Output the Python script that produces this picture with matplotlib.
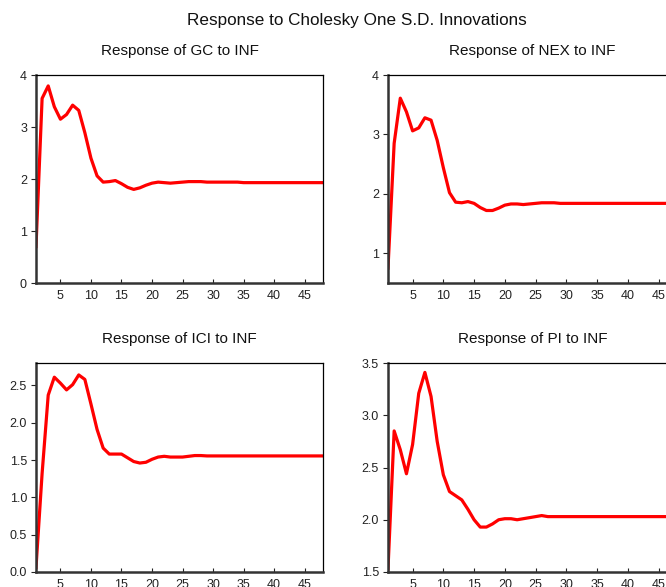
import numpy as np
import matplotlib
matplotlib.use("Agg")
import matplotlib.pyplot as plt

plt.rcParams["font.family"] = ["Liberation Sans", "DejaVu Sans"]

# --- Impulse responses to an INF shock (periods 1..48) ---
periods = np.arange(1, 49)

resp_gc = [0.70, 3.55, 3.79, 3.39, 3.15, 3.24, 3.42, 3.32, 2.89, 2.40,
           2.06, 1.94, 1.95, 1.97, 1.91, 1.84, 1.80, 1.83, 1.88, 1.92,
           1.94, 1.93, 1.92, 1.93, 1.94, 1.95, 1.95, 1.95, 1.94, 1.94,
           1.94, 1.94, 1.94, 1.94, 1.93, 1.93, 1.93, 1.93, 1.93, 1.93,
           1.93, 1.93, 1.93, 1.93, 1.93, 1.93, 1.93, 1.93]

resp_nex = [0.75, 2.85, 3.61, 3.38, 3.06, 3.11, 3.28, 3.24, 2.90, 2.44,
            2.02, 1.86, 1.85, 1.87, 1.84, 1.77, 1.72, 1.72, 1.76, 1.81,
            1.83, 1.83, 1.82, 1.83, 1.84, 1.85, 1.85, 1.85, 1.84, 1.84,
            1.84, 1.84, 1.84, 1.84, 1.84, 1.84, 1.84, 1.84, 1.84, 1.84,
            1.84, 1.84, 1.84, 1.84, 1.84, 1.84, 1.84, 1.84]

resp_ici = [0.06, 1.32, 2.37, 2.61, 2.53, 2.44, 2.51, 2.64, 2.58, 2.25,
            1.91, 1.66, 1.58, 1.58, 1.58, 1.53, 1.48, 1.46, 1.47, 1.51,
            1.54, 1.55, 1.54, 1.54, 1.54, 1.55, 1.56, 1.56, 1.555, 1.555,
            1.555, 1.555, 1.555, 1.555, 1.555, 1.555, 1.555, 1.555, 1.555, 1.555,
            1.555, 1.555, 1.555, 1.555, 1.555, 1.555, 1.555, 1.555]

resp_pi = [1.53, 2.85, 2.67, 2.44, 2.72, 3.21, 3.41, 3.18, 2.75, 2.43,
           2.27, 2.23, 2.19, 2.10, 2.00, 1.93, 1.93, 1.96, 2.00, 2.01,
           2.01, 2.00, 2.01, 2.02, 2.03, 2.04, 2.03, 2.03, 2.03, 2.03,
           2.03, 2.03, 2.03, 2.03, 2.03, 2.03, 2.03, 2.03, 2.03, 2.03,
           2.03, 2.03, 2.03, 2.03, 2.03, 2.03, 2.03, 2.03]

titles = ["Response of GC to INF", "Response of NEX to INF",
          "Response of ICI to INF", "Response of PI to INF"]
ylims = [(0, 4), (0.5, 4), (0, 2.8), (1.5, 3.5)]
yticks = [[0, 1, 2, 3, 4], [1, 2, 3, 4],
          [0.0, 0.5, 1.0, 1.5, 2.0, 2.5], [1.5, 2.0, 2.5, 3.0, 3.5]]
ytick_fmt = ["{:.0f}", "{:.0f}", "{:.1f}", "{:.1f}"]
xticks = [5, 10, 15, 20, 25, 30, 35, 40, 45]

W, H = 666, 587
fig = plt.figure(figsize=(W / 100, H / 100), dpi=100)

# panel boxes in pixels: left, top, right, bottom (right column runs past the edge)
boxes = [(36, 75, 323, 283), (388, 75, 677, 283),
         (36, 363, 323, 572), (388, 363, 677, 572)]

series = [resp_gc, resp_nex, resp_ici, resp_pi]

for i, (l, t, r, b) in enumerate(boxes):
    ax = fig.add_axes([l / W, 1 - b / H, (r - l) / W, (b - t) / H])
    ax.plot(periods, series[i], color="#ff0000", lw=2.3, solid_joinstyle="round")
    ax.set_xlim(1, 48)
    ax.set_ylim(*ylims[i])
    ax.set_xticks(xticks)
    ax.set_yticks(yticks[i])
    ax.set_yticklabels([ytick_fmt[i].format(v) for v in yticks[i]])
    ax.tick_params(axis="x", direction="in", length=3, width=0.8,
                   labelsize=9, pad=5, colors="#222222")
    ax.tick_params(axis="y", direction="out", length=3.5, width=0.8,
                   labelsize=9, pad=3, colors="#222222")
    for side in ["left", "bottom"]:
        ax.spines[side].set_linewidth(1.8)
        ax.spines[side].set_color("#333333")
    for side in ["top", "right"]:
        ax.spines[side].set_linewidth(0.9)
        ax.spines[side].set_color("#000000")
    cx = (l + r) / 2 / W
    fig.text(cx, 1 - (t - 24) / H, titles[i], ha="center", va="center",
             fontsize=11, color="#111111")

fig.text(357 / W, 1 - 20 / H, "Response to Cholesky One S.D. Innovations",
         ha="center", va="center", fontsize=12.3, color="#111111")

fig.savefig("out.png", dpi=100)
